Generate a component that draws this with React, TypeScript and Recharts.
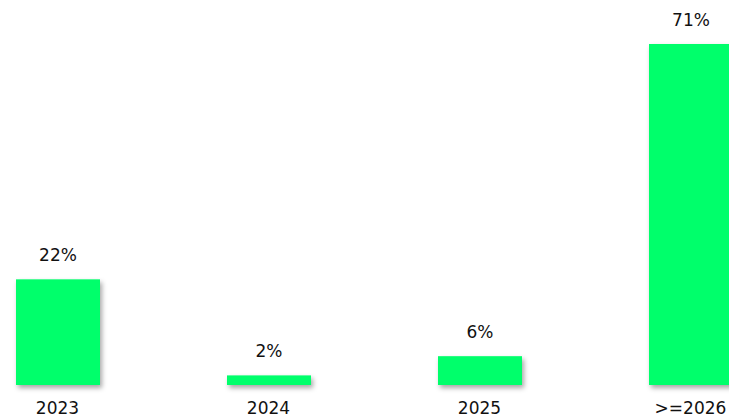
import React from 'react';
import { BarChart, Bar, XAxis, YAxis, LabelList } from 'recharts';

const years = ['2023', '2024', '2025', '>=2026'];
const shares = [22, 2, 6, 71];

const data = years.map((year, i) => ({ year, share: shares[i] }));

const GREEN = '#00FF6B';

// bar with a soft drop shadow underneath
const ShadowBar = (props: any) => {
  const { x, y, width, height } = props;
  return (
    <rect
      x={x}
      y={y}
      width={width}
      height={height}
      fill={GREEN}
      style={{ filter: 'drop-shadow(2px 3px 2.5px rgba(0,0,0,0.35))' }}
    />
  );
};

const App = () => {
  return (
    <div
      style={{
        position: 'fixed',
        left: 0,
        top: 0,
        width: 729,
        height: 417,
        overflow: 'hidden',
        background: '#fff',
      }}
    >
      <div style={{ position: 'absolute', left: -48, top: 0 }}>
        <BarChart
          width={844}
          height={417}
          data={data}
          margin={{ top: 44, right: 0, bottom: 0, left: 0 }}
          barSize={84}
        >
          <XAxis
            dataKey="year"
            height={32}
            axisLine={false}
            tickLine={false}
            tickSize={0}
            tickMargin={17}
            interval={0}
            tick={{ fill: '#111', fontSize: 17, fontFamily: 'DejaVu Sans' }}
          />
          <YAxis hide domain={[0, 71]} />
          <Bar dataKey="share" shape={ShadowBar} isAnimationActive={false}>
            <LabelList
              dataKey="share"
              position="top"
              offset={18}
              formatter={(v: any) => `${v}%`}
              style={{ fill: '#111', fontSize: 17, fontFamily: 'DejaVu Sans' }}
            />
          </Bar>
        </BarChart>
      </div>
    </div>
  );
};

export default App;
